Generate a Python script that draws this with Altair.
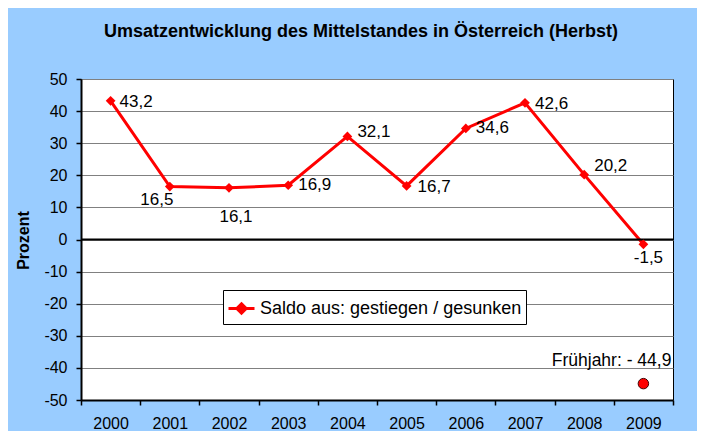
import altair as alt
import pandas as pd

# ---- data ----
years = ["2000", "2001", "2002", "2003", "2004", "2005", "2006", "2007", "2008", "2009"]
values = [43.2, 16.5, 16.1, 16.9, 32.1, 16.7, 34.6, 42.6, 20.2, -1.5]
value_labels = ["43,2", "16,5", "16,1", "16,9", "32,1", "16,7", "34,6", "42,6", "20,2", "-1,5"]
series_name = "Saldo aus: gestiegen / gesunken"
spring_year = ["2009"]
spring_value = [-44.9]
spring_label = ["Frühjahr: - 44,9"]
y_ticks = [-50, -40, -30, -20, -10, 0, 10, 20, 30, 40, 50]

# ---- label styling (nudges, not data) ----
label_align = ["left", "center", "center", "left", "left", "left", "left", "left", "left", "center"]
label_dx = [9, -13, 7, 10, 10, 11, 10, 10, 10, 5]
label_dy = [1, 13, 29, 0, -4, 1, 0, 1, -9, 14]

FONT = "Liberation Sans"
RED = "#FF0000"

df = pd.DataFrame({"year": years, "value": values, "label": value_labels,
                   "series": [series_name] * len(years)})
spring = pd.DataFrame({"year": spring_year, "value": spring_value, "label": spring_label})
zero = pd.DataFrame({"value": [0]})

x_enc = alt.X("year:O", sort=years,
              scale=alt.Scale(type="band", paddingInner=0, paddingOuter=0, domain=years),
              axis=alt.Axis(title=None, tickBand="extent", grid=False, labelAngle=0,
                            labelFontSize=16, labelFont=FONT, labelColor="black",
                            labelPadding=10, tickSize=5, tickColor="black", tickWidth=1.5,
                            domainColor="black", domainWidth=2))
y_scale = alt.Scale(domain=[-50, 50], nice=False)
y_enc = alt.Y("value:Q", scale=y_scale,
              axis=alt.Axis(title="Prozent", values=y_ticks, grid=True, gridColor="#808080",
                            gridWidth=1, labelOverlap=False, labelExpr="'' + datum.value",
                            labelFontSize=16, labelFont=FONT, labelColor="black",
                            labelPadding=9, tickSize=5, tickColor="black", tickWidth=1.5,
                            domainColor="black", domainWidth=2,
                            titleFont=FONT, titleFontSize=16, titleFontWeight="bold",
                            titleColor="black", titleX=-58, titleY=161,
                            titleAlign="center", titleBaseline="middle", titleAngle=-90))

base = alt.Chart(df)

line = base.mark_line(strokeWidth=3).encode(
    x=x_enc, y=y_enc,
    color=alt.Color("series:N", scale=alt.Scale(range=[RED]),
                    legend=alt.Legend(title=None, orient="none", legendX=142, legendY=211,
                                      symbolType="M-1,0L1,0M0,-0.36L0.36,0L0,0.36L-0.36,0Z",
                                      symbolSize=676, symbolStrokeWidth=3,
                                      symbolFillColor=RED, symbolStrokeColor=RED,
                                      labelFontSize=18, labelFont=FONT, labelColor="black",
                                      labelLimit=400, padding=4,
                                      strokeColor="black", fillColor="white",
                                      symbolOffset=0)),
)

points = base.mark_point(shape="diamond", filled=True, size=95, color=RED, opacity=1).encode(
    x=x_enc, y=y_enc)

zero_rule = alt.Chart(zero).mark_rule(color="black", strokeWidth=2).encode(y=y_enc)

text_layers = []
for i in range(len(years)):
    t = alt.Chart(df.iloc[[i]]).mark_text(
        align=label_align[i], baseline="middle", dx=label_dx[i], dy=label_dy[i],
        fontSize=17, font=FONT, color="black"
    ).encode(x=x_enc, y=y_enc, text="label:N")
    text_layers.append(t)

spring_pt = alt.Chart(spring).mark_point(shape="circle", filled=True, size=110, color=RED,
                                          stroke="#400000", strokeWidth=1, opacity=1).encode(
    x=x_enc, y=y_enc)
spring_txt = alt.Chart(spring).mark_text(align="right", baseline="alphabetic", dx=28, dy=-18,
                                          fontSize=17.5, font=FONT, color="black").encode(
    x=x_enc, y=y_enc, text="label:N")

chart = alt.layer(line, zero_rule, points, *text_layers, spring_pt, spring_txt).properties(
    width=592, height=321,
    title=alt.TitleParams("Umsatzentwicklung des Mittelstandes in Österreich (Herbst)",
                          font=FONT, fontSize=18, fontWeight="bold", color="black",
                          anchor="middle", frame="group", dx=-16, offset=16,
                          baseline="alphabetic"),
    autosize=alt.AutoSizeParams(type="none"),
    padding={"left": 73, "top": 71, "right": 24, "bottom": 31},
    background="#99CCFF",
).configure_view(fill="white", stroke="black", strokeWidth=1
).configure_axis(labelOverlap=False)

chart.save("out.html", embed_options={"renderer": "svg", "actions": False})
